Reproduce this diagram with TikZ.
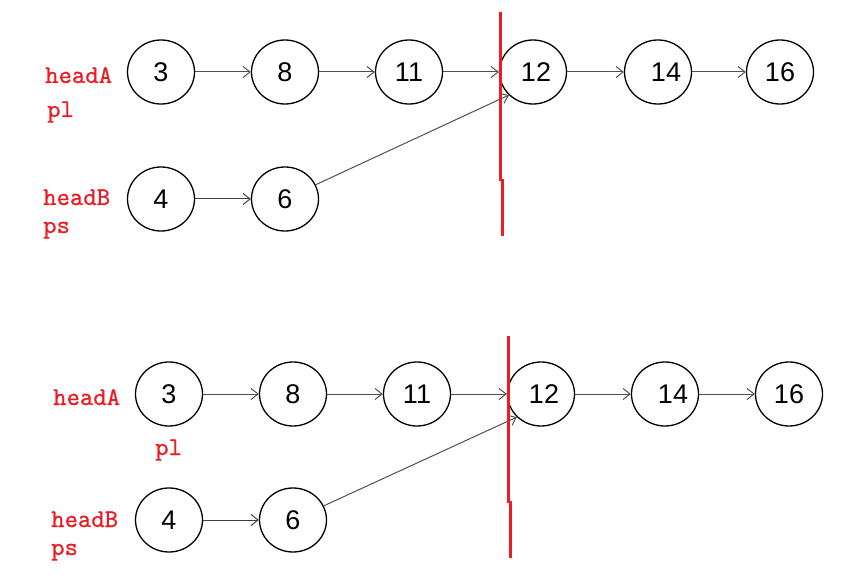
\documentclass[tikz,border=0pt]{standalone}
\usepackage{fontspec}
\setmainfont{Liberation Sans}
\newfontfamily\labfont[FakeBold=0.7]{lmmono10-regular.otf}
\usetikzlibrary{shapes.geometric,arrows.meta}
\definecolor{lred}{RGB}{235,28,36}
\definecolor{agray}{RGB}{80,80,80}
\tikzset{
  lnode/.style={ellipse,draw=black,line width=1.3pt,minimum width=67pt,minimum height=64pt,inner sep=0pt,
    font=\fontsize{27}{27}\selectfont},
  lnk/.style={draw=agray,line width=1pt,-{Straight Barb[length=7pt,width=11pt]}},
  lab/.style={text=lred,font=\labfont\fontsize{25.5}{25.5}\selectfont,inner sep=0pt,anchor=base west},
  cut/.style={draw=lred,line width=3pt}
}
\begin{document}
\begin{tikzpicture}[x=1pt,y=-1pt]
\useasboundingbox (0,0) rectangle (860,580);
% ---- top diagram ----
\node[lnode] (a3) at (161,72) {3};
\node[lnode] (a8) at (285,72) {8};
\node[lnode] (a11) at (409,72) {11};
\node[lnode] (a12) at (533,72) {\hspace{6pt}12};
\node[lnode] (a14) at (658,72) {\hspace{16pt}14};
\node[lnode] (a16) at (780,72) {16};
\node[lnode] (b4) at (161,199) {4};
\node[lnode] (b6) at (285,199) {6};
\draw[lnk] (a3) -- (a8);
\draw[lnk] (a8) -- (a11);
\draw[lnk] (a11) -- (a12);
\draw[lnk] (a12) -- (a14);
\draw[lnk] (a14) -- (a16);
\draw[lnk,draw=black!75] (b4) -- (b6);
\draw[lnk] (b6) -- (a12.south west);
\node[lab] (hA1) at (45,83) {headA};
\node[lab] (pl1) at (47,117) {pl};
\node[lab] (hB1) at (43,205) {headB};
\node[lab] (ps1) at (43,233) {ps};
\coordinate (r1a) at (500,12);
\coordinate (r1b) at (500,181);
\coordinate (r1c) at (502,179);
\coordinate (r1d) at (502,236);
\draw[cut] (r1a) -- (r1b);
\draw[cut] (r1c) -- (r1d);
% ---- bottom diagram ----
\node[lnode] (c3) at (169,394) {3};
\node[lnode] (c8) at (293,394) {8};
\node[lnode] (c11) at (417,394) {11};
\node[lnode] (c12) at (541,394) {\hspace{6pt}12};
\node[lnode] (c14) at (665,394) {\hspace{16pt}14};
\node[lnode] (c16) at (789,394) {16};
\node[lnode] (d4) at (169,520) {4};
\node[lnode] (d6) at (293,520) {6};
\draw[lnk] (c3) -- (c8);
\draw[lnk] (c8) -- (c11);
\draw[lnk] (c11) -- (c12);
\draw[lnk] (c12) -- (c14);
\draw[lnk] (c14) -- (c16);
\draw[lnk,draw=black!75] (d4) -- (d6);
\draw[lnk] (d6) -- (c12.south west);
\node[lab] (hA2) at (53,405) {headA};
\node[lab] (pl2) at (155,455) {pl};
\node[lab] (hB2) at (51,527) {headB};
\node[lab] (ps2) at (51,555) {ps};
\coordinate (r2a) at (508,336);
\coordinate (r2b) at (508,503);
\coordinate (r2c) at (510,501);
\coordinate (r2d) at (510,558);
\draw[cut] (r2a) -- (r2b);
\draw[cut] (r2c) -- (r2d);
\end{tikzpicture}
\end{document}
